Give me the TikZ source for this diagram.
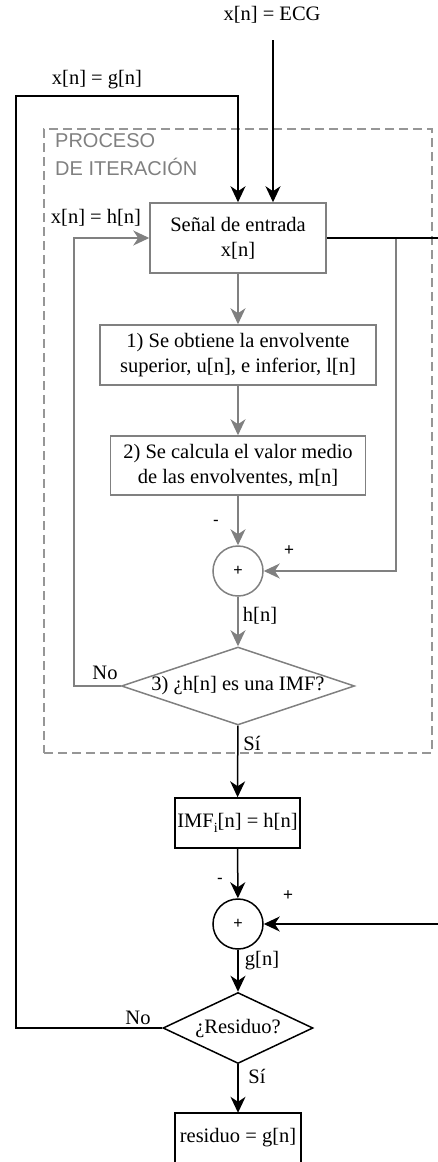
\documentclass[tikz,border=0pt]{standalone}
\usepackage{fontspec}
\setmainfont{Liberation Serif}
\newfontfamily\labsans{Liberation Sans}
\usetikzlibrary{arrows.meta,shapes.geometric}
\definecolor{procgray}{RGB}{128,128,128}
\definecolor{dashgray}{RGB}{150,150,150}
\begin{document}
\begin{tikzpicture}[x=1pt,y=-1pt,
  every node/.style={font=\fontsize{20.5}{25}\selectfont},
  tip/.style={-{Stealth[length=16pt,width=15pt,inset=5pt]}},
  gline/.style={draw=procgray,line width=1.5pt},
  bline/.style={draw=black,line width=1.5pt},
  gbox/.style={draw=procgray,line width=1.5pt,rectangle,align=center,inner sep=0pt},
  bbox/.style={draw=black,line width=1.5pt,rectangle,align=center,inner sep=0pt},
  gdia/.style={draw=procgray,line width=1.5pt,diamond,inner sep=0pt},
  bdia/.style={draw=black,line width=1.5pt,diamond,inner sep=0pt},
  gsum/.style={draw=procgray,line width=1.5pt,circle,minimum size=50pt,inner sep=0pt,font=\labsans\fontsize{16}{18}\selectfont},
  bsum/.style={draw=black,line width=1.5pt,circle,minimum size=50pt,inner sep=0pt,font=\labsans\fontsize{16}{18}\selectfont},
  sign/.style={font=\labsans\fontsize{17}{19}\selectfont},
  lab/.style={inner sep=0pt}]
\useasboundingbox (0,0) rectangle (438,1162);

% dashed iteration frame
\node[draw=dashgray,dashed,dash pattern=on 9pt off 5pt,line width=1.2pt,minimum width=388pt,minimum height=624pt,inner sep=0pt] (frame) at (238,441) {};
\node[lab,anchor=north west,align=left,text=procgray,font=\labsans\fontsize{20}{28}\selectfont] (ptitle) at (55,133) {PROCESO\\DE ITERACIÓN};

% nodes
\node[gbox,minimum width=176pt,minimum height=70pt] (sen) at (238,238) {Señal de entrada\\x[n]};
\node[gbox,minimum width=276pt,minimum height=60pt] (b1) at (238,355) {1) Se obtiene la envolvente\\superior, u[n], e inferior, l[n]};
\node[gbox,minimum width=255pt,minimum height=59pt] (b2) at (238,465.5) {2) Se calcula el valor medio\\de las envolventes, m[n]};
\node[gsum] (s1) at (238,571) {+};
\node[gdia,minimum width=233pt,minimum height=78pt,aspect=2.99] (d1) at (238,686) {3) ¿h[n] es una IMF?};
\node[bbox,minimum width=125pt,minimum height=50pt] (imf) at (237.5,823) {IMF\raisebox{-5pt}{\fontsize{14}{14}\selectfont i}[n] = h[n]};
\node[bsum] (s2) at (238,924) {+};
\node[bdia,minimum width=150pt,minimum height=71pt,aspect=2.11] (d2) at (238,1028) {¿Residuo?};
\node[lab,minimum width=126pt,minimum height=49pt] (res) at (238,1137.5) {residuo = g[n]};
\draw[bline] (res.south west) -- (res.north west) -- (res.north east) -- (res.south east);

% free ends
\coordinate (ecgtop) at (273,40);
\coordinate (gl) at (16,96);
\coordinate (tap) at (396,238);
\coordinate (redge) at (438,238);
\coordinate (redge2) at (438,924);

% labels
\node[lab] (lecg) at (272,15) {x[n] = ECG};
\node[lab] (lg) at (97,80) {x[n] = g[n]};
\node[lab] (lh) at (96,218) {x[n] = h[n]};
\node[sign] (m1) at (216,523) {-};
\node[sign] (p1) at (289,551) {+};
\node[lab] (hn) at (260,616) {h[n]};
\node[lab] (no1) at (105,673) {No};
\node[lab] (si1) at (252,743) {Sí};
\node[sign] (m2) at (220,881) {-};
\node[sign] (p2) at (288,896) {+};
\node[lab] (gn) at (262,961) {g[n]};
\node[lab] (no2) at (138,1018) {No};
\node[lab] (si2) at (257,1076) {Sí};

% connectors
\draw[bline,tip] (ecgtop) -- (ecgtop |- sen.north);
\draw[bline,tip] (d2.west) -| (gl) -| (sen.north);
\draw[gline,tip] (d1.west) -| (74,238) -- (sen.west);
\draw[gline,tip] (sen) -- (b1);
\draw[gline,tip] (b1) -- (b2);
\draw[gline,tip] (b2) -- (s1);
\draw[gline,tip] (tap) |- (s1.east);
\draw[bline] (sen.east) -- (redge);
\draw[gline,tip] (s1) -- (d1);
\draw[bline,tip] (d1) -- (imf);
\draw[bline,tip] (imf) -- (s2);
\draw[bline,tip] (redge2) -- (s2.east);
\draw[bline,tip] (s2) -- (d2);
\draw[bline,tip] (d2) -- (res);
\end{tikzpicture}
\end{document}
